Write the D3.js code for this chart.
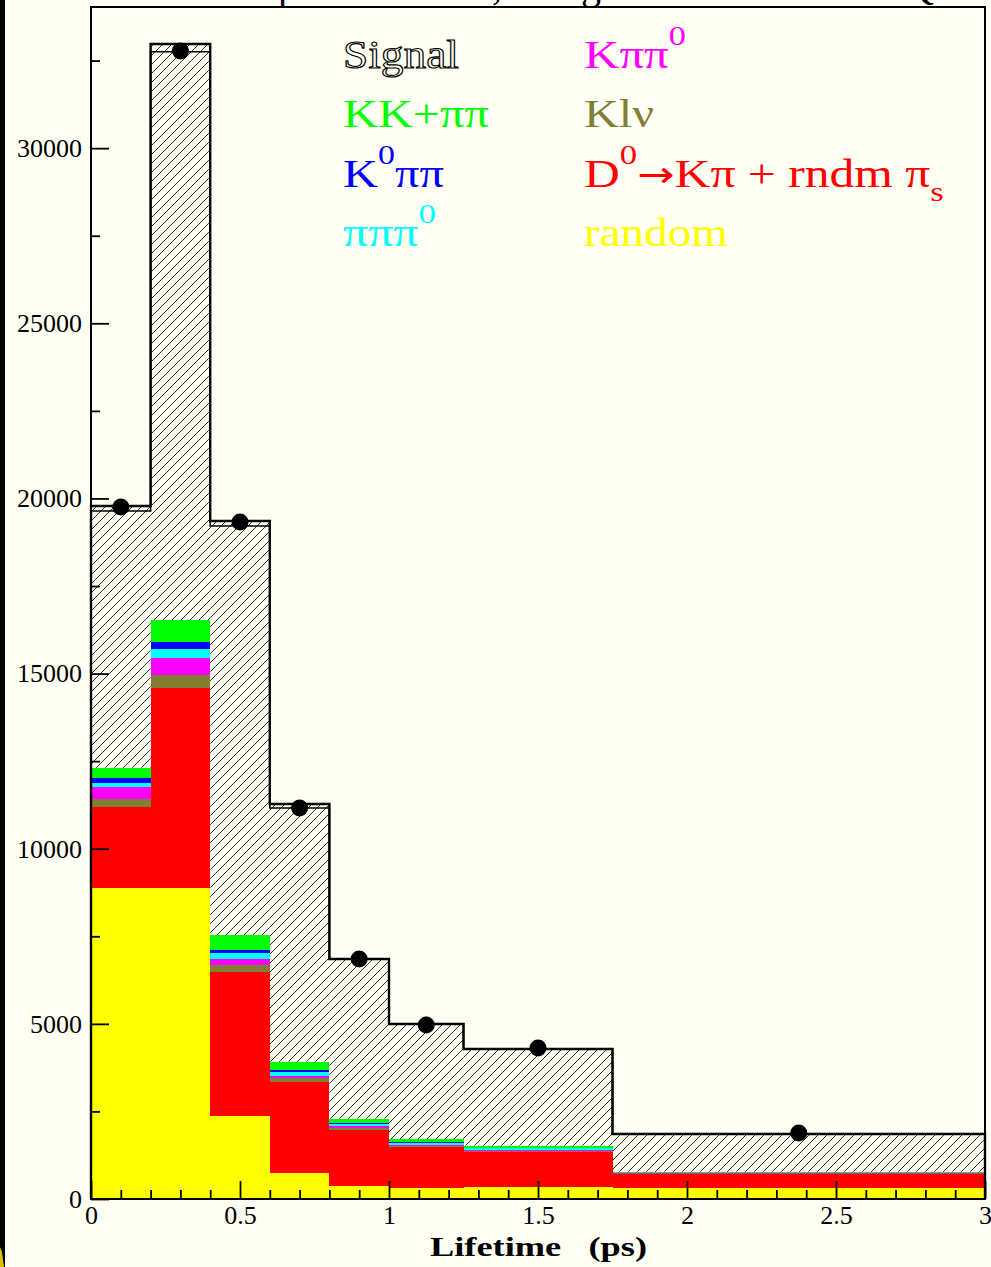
<!DOCTYPE html>
<html>
<head>
<meta charset="utf-8">
<script src="https://cdn.jsdelivr.net/npm/d3@7"></script>
<style>
  html, body { margin: 0; padding: 0; background: #fffff4; }
  svg { display: block; }
  text { font-family: "Liberation Serif", "Times New Roman", serif; }
</style>
</head>
<body>
<svg id="chart" width="991" height="1267"></svg>
<script>
// ---------- data ----------
const binEdges = [0, 0.2, 0.4, 0.6, 0.8, 1.0, 1.25, 1.75, 3.0];
const randomBkg = [8887, 8887, 2369, 751, 371, 305, 351, 305];
const dkpiRndm  = [2295, 5692, 4103, 2598, 1613, 1188, 999, 409];
const klnu      = [228, 371, 199, 97, 40, 26, 22, 8];
const kpipi0    = [343, 485, 172, 74, 50, 30, 25, 9];
const pipipi0   = [131, 266, 188, 114, 70, 50, 45, 15];
const k0pipi    = [126, 208, 77, 49, 30, 25, 20, 8];
const kkpipi    = [302, 620, 428, 237, 120, 80, 60, 25];
const signal    = [7471, 16443, 11818, 7356, 4557, 3292, 2760, 1077];
const mcLine    = [19640, 32752, 19212, 11162, 6851, 4996, 4282, 1856];
const dataVals  = [19754, 32772, 19326, 11162, 6851, 4967, 4311, 1884];

const yMajorTicks = [0, 5000, 10000, 15000, 20000, 25000, 30000];
const yTickLabels = ["0", "5000", "10000", "15000", "20000", "25000", "30000"];
const yMinorTicks = [2500, 7500, 12500, 17500, 22500, 27500, 32500];
const xMajorTicks = [0, 0.5, 1, 1.5, 2, 2.5, 3];
const xTickLabels = ["0", "0.5", "1", "1.5", "2", "2.5", "3"];
const xMinorTicks = d3.range(1, 30).map(i => i / 10).filter(v => Math.abs(v * 2 - Math.round(v * 2)) > 1e-6);

const stackSeries = [
  { name: "random", vals: randomBkg, color: "#ffff00" },
  { name: "dkpi", vals: dkpiRndm, color: "#ff0000" },
  { name: "klnu", vals: klnu, color: "#817e36" },
  { name: "kpipi0", vals: kpipi0, color: "#ff00ff" },
  { name: "pipipi0", vals: pipipi0, color: "#00ffff" },
  { name: "k0pipi", vals: k0pipi, color: "#0000ff" },
  { name: "kkpipi", vals: kkpipi, color: "#00ff00" }
];

// ---------- layout ----------
const svg = d3.select("#chart");
const L = 91, R = 985, T = 7, B = 1199;
const x = d3.scaleLinear().domain([0, 3]).range([L, R]);
const y = d3.scaleLinear().domain([0, 34030]).range([B, T]);

svg.append("rect").attr("width", 991).attr("height", 1267).attr("fill", "#fffff4");

// hatch pattern
const defs = svg.append("defs");
const hs = 9;
const pat = defs.append("pattern").attr("id", "hatch").attr("patternUnits", "userSpaceOnUse")
  .attr("width", hs).attr("height", hs);
pat.append("path").attr("d", `M-1,1 l2,-2 M0,${hs} l${hs},${-hs} M${hs - 1},${hs + 1} l2,-2`)
  .attr("stroke", "#1a1a1a").attr("stroke-width", 0.9).attr("fill", "none");

const nb = signal.length;
const bins = d3.range(nb).map(i => ({ x0: binEdges[i], x1: binEdges[i + 1] }));

// cumulative stack
const cum = d3.range(nb).map(() => 0);
const layers = stackSeries.map(s => {
  const l = s.vals.map((v, i) => ({ i, lo: cum[i], hi: cum[i] + v }));
  s.vals.forEach((v, i) => cum[i] += v);
  return { s, l };
});
const totals = d3.range(nb).map(i => cum[i] + signal[i]);

// hatched signal area (drawn from stack top to total)
svg.append("g").selectAll("rect").data(bins).join("rect")
  .attr("x", d => x(d.x0)).attr("width", d => x(d.x1) - x(d.x0))
  .attr("y", (d, i) => y(totals[i])).attr("height", (d, i) => y(cum[i]) - y(totals[i]))
  .attr("fill", "url(#hatch)");

// colored stacked layers
layers.forEach(({ s, l }) => {
  svg.append("g").selectAll("rect").data(l).join("rect")
    .attr("x", d => x(binEdges[d.i])).attr("width", d => x(binEdges[d.i + 1]) - x(binEdges[d.i]))
    .attr("y", d => y(d.hi)).attr("height", d => y(d.lo) - y(d.hi))
    .attr("fill", s.color).attr("shape-rendering", "crispEdges");
});

// step outlines
function stepPts(vals) {
  const pts = [[binEdges[0], 0]];
  vals.forEach((v, i) => { pts.push([binEdges[i], v]); pts.push([binEdges[i + 1], v]); });
  pts.push([binEdges[nb], 0]);
  return pts;
}
const line = d3.line().x(d => x(d[0])).y(d => y(d[1]));
svg.append("path").attr("d", line(stepPts(mcLine))).attr("fill", "none")
  .attr("stroke", "#000").attr("stroke-width", 1.6);
svg.append("path").attr("d", line(stepPts(totals))).attr("fill", "none")
  .attr("stroke", "#000").attr("stroke-width", 2.4);

// data points
svg.append("g").selectAll("circle").data(dataVals).join("circle")
  .attr("cx", (d, i) => x((binEdges[i] + binEdges[i + 1]) / 2))
  .attr("cy", d => y(d)).attr("r", 8.5).attr("fill", "#000");

// ---------- axes ----------
const yAxis = d3.axisLeft(y).tickValues(yMajorTicks).tickSizeInner(-18).tickSizeOuter(0)
  .tickPadding(9).tickFormat((d, i) => yTickLabels[i]);
const gy = svg.append("g").attr("transform", `translate(${L},0)`).call(yAxis);
const yAxisMinor = d3.axisLeft(y).tickValues(yMinorTicks).tickSizeInner(-9).tickSizeOuter(0).tickFormat("");
const gym = svg.append("g").attr("transform", `translate(${L},0)`).call(yAxisMinor);

const xAxis = d3.axisBottom(x).tickValues(xMajorTicks).tickSizeInner(-18).tickSizeOuter(0)
  .tickPadding(6.5).tickFormat((d, i) => xTickLabels[i]);
const gx = svg.append("g").attr("transform", `translate(0,${B})`).call(xAxis);
const xAxisMinor = d3.axisBottom(x).tickValues(xMinorTicks).tickSizeInner(-9).tickSizeOuter(0).tickFormat("");
const gxm = svg.append("g").attr("transform", `translate(0,${B})`).call(xAxisMinor);

[gy, gym, gx, gxm].forEach(g => {
  g.select(".domain").remove();
  g.selectAll("line").attr("stroke", "#000").attr("stroke-width", 1.8);
  g.selectAll("text").attr("font-family", "Liberation Serif, serif").attr("font-size", 26).attr("fill", "#000");
});

// frame
svg.append("rect").attr("x", L).attr("y", T).attr("width", R - L).attr("height", B - T)
  .attr("fill", "none").attr("stroke", "#000").attr("stroke-width", 2);

// x label
svg.append("text").attr("x", 430).attr("y", 1256).attr("font-size", 28).attr("font-weight", "bold")
  .attr("textLength", 217).attr("lengthAdjust", "spacingAndGlyphs")
  .attr("xml:space", "preserve").style("white-space", "pre")
  .text("Lifetime   (ps)");

// clipped title (only descenders visible, as in the reference)
const titleBits = [{ t: "p", x: 278 }, { t: ",", x: 492 }, { t: "g", x: 581 }, { t: "Q", x: 905 }];
svg.append("g").selectAll("text").data(titleBits).join("text")
  .attr("x", d => d.x).attr("y", -1).attr("font-size", 40).attr("fill", "#000").text(d => d.t);

// ---------- legend ----------
function fitW(sel, x0, w) {
  const bw = sel.node().getBBox().width;
  const k = w / bw;
  sel.attr("transform", `translate(${x0},0) scale(${k},1) translate(${-x0},0)`);
}
const fs = 40;
function legendText(x0, yb, color, parts, w, outline) {
  const t = svg.append("text").attr("x", x0).attr("y", yb).attr("font-size", fs).attr("fill", color);
  if (outline) t.attr("fill", "#fffff4").attr("stroke", "#000").attr("stroke-width", 1.1);
  parts.forEach(p => {
    const ts = t.append("tspan").text(p.t);
    if (p.sup) ts.attr("font-size", 28).attr("dy", -23);
    if (p.sub) ts.attr("font-size", 28).attr("dy", 14);
    if (p.back) ts.attr("dy", p.back);
    if (p.arrow) ts.attr("font-family", "DejaVu Sans, sans-serif").attr("font-size", 36);
  });
  fitW(t, x0, w);
  return t;
}
const c1 = 343, c2 = 584;
legendText(c1, 68, "#000", [{ t: "Signal" }], 116, true);
legendText(c1, 127, "#00ff00", [{ t: "KK+ππ" }], 146);
legendText(c1, 187, "#0000ff", [{ t: "K" }, { t: "0", sup: true }, { t: "ππ", back: 23 }], 101);
legendText(c1, 246, "#00ffff", [{ t: "πππ" }, { t: "0", sup: true }], 93);
legendText(c2, 68, "#ff00ff", [{ t: "Kππ" }, { t: "0", sup: true }], 102);
legendText(c2, 127, "#817e36", [{ t: "Klν" }], 70);
legendText(c2, 187, "#ff0000", [{ t: "D" }, { t: "0", sup: true }, { t: "→", back: 23, arrow: true }, { t: "Kπ + rndm π" }, { t: "s", sub: true }], 360);
legendText(c2, 246, "#ffff00", [{ t: "random" }], 144);

// left black edge strip
svg.append("rect").attr("x", 0).attr("y", 0).attr("width", 5).attr("height", 1267).attr("fill", "#000");
svg.append("path").attr("d", "M0,1247 L2,1252 L4,1267 L0,1267 Z").attr("fill", "#d8c000");
</script>
</body>
</html>
